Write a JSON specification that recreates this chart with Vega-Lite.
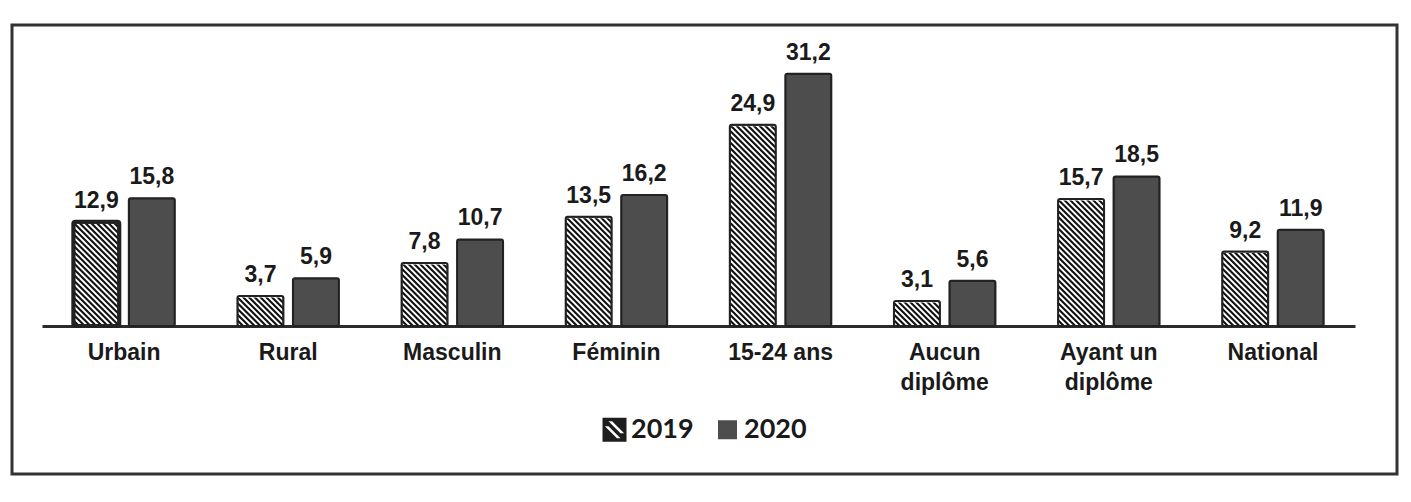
{
  "$schema": "https://vega.github.io/schema/vega-lite/v6.json",
  "autosize": {"type": "none"},
  "padding": {"left": 12, "top": 25, "right": 14, "bottom": 28},
  "width": 1385,
  "height": 449,
  "background": "white",
  "config": {
    "font": "Liberation Sans",
    "locale": {"number": {"decimal": ",", "thousands": "\u00a0", "grouping": [3], "currency": ["", " €"]}},
    "view": {"stroke": "#333333", "strokeWidth": 3}
  },
  "data": {
    "values": [
      {"cat": "Urbain", "year": "2019", "value": 12.9},
      {"cat": "Urbain", "year": "2020", "value": 15.8},
      {"cat": "Rural", "year": "2019", "value": 3.7},
      {"cat": "Rural", "year": "2020", "value": 5.9},
      {"cat": "Masculin", "year": "2019", "value": 7.8},
      {"cat": "Masculin", "year": "2020", "value": 10.7},
      {"cat": "Féminin", "year": "2019", "value": 13.5},
      {"cat": "Féminin", "year": "2020", "value": 16.2},
      {"cat": "15-24 ans", "year": "2019", "value": 24.9},
      {"cat": "15-24 ans", "year": "2020", "value": 31.2},
      {"cat": "Aucun diplôme", "year": "2019", "value": 3.1},
      {"cat": "Aucun diplôme", "year": "2020", "value": 5.6},
      {"cat": "Ayant un diplôme", "year": "2019", "value": 15.7},
      {"cat": "Ayant un diplôme", "year": "2020", "value": 18.5},
      {"cat": "National", "year": "2019", "value": 9.2},
      {"cat": "National", "year": "2020", "value": 11.9}
    ]
  },
  "encoding": {
    "x": {
      "field": "cat", "type": "nominal", "sort": null,
      "scale": {"range": [30, 1343], "paddingInner": 0, "paddingOuter": 0},
      "axis": {
        "title": null, "ticks": false, "grid": false, "labelAngle": 0,
        "offset": -148,
        "domainColor": "#2b2b2b", "domainWidth": 3,
        "labelFont": "Liberation Sans", "labelFontWeight": "bold", "labelFontSize": 23,
        "labelColor": "#1a1a1a", "labelPadding": 15, "labelBaseline": "top", "labelLineHeight": 30,
        "labelExpr": "indexof(datum.label, ' diplôme') > 0 ? [replace(datum.label, ' diplôme', ''), 'diplôme'] : datum.label"
      }
    },
    "xOffset": {
      "field": "year", "type": "nominal",
      "scale": {"domain": ["2019", "2020"], "paddingInner": 0.1712, "paddingOuter": 0.5642}
    }
  },
  "layer": [
    {
      "transform": [{"filter": "datum.year == '2019'"}],
      "mark": {
        "type": "point", "filled": false, "size": 2116, "opacity": 1,
        "stroke": "#111111", "strokeWidth": 2.1, "strokeCap": "butt",
        "shape": "M-1,-0.25l0.25,0.25M-1,-0.5l0.5,0.5M-1,-0.75l0.75,0.75M-1,-1l1,1M-1,-1.25l1.25,1.25M-1,-1.5l1.5,1.5M-1,-1.75l1.75,1.75M-1,-2l2,2M-1,-2.25l2,2M-1,-2.5l2,2M-1,-2.75l2,2M-1,-3l2,2M-1,-3.25l2,2M-1,-3.5l2,2M-1,-3.75l2,2M-1,-4l2,2M-1,-4.25l2,2M-1,-4.5l2,2M-1,-4.75l2,2M-1,-5l2,2M-1,-5.25l2,2M-1,-5.5l2,2M-1,-5.75l2,2M-1,-6l2,2M-1,-6.25l2,2M-1,-6.5l2,2M-1,-6.75l2,2M-1,-7l2,2M-1,-7.25l2,2M-1,-7.5l2,2M-1,-7.75l2,2M-1,-8l2,2M-1,-8.25l2,2M-1,-8.5l2,2M-1,-8.75l2,2M-1,-9l2,2M-1,-9.25l2,2M-1,-9.5l2,2M-1,-9.75l2,2M-1,-10l2,2M-1,-10.25l2,2M-1,-10.5l2,2M-1,-10.75l2,2M-1,-11l2,2"
      },
      "encoding": {
        "y": {"datum": 0, "type": "quantitative", "scale": {"domain": [0, 35], "range": [301, 18]}, "axis": null}
      }
    },
    {
      "transform": [{"filter": "datum.year == '2019'"}],
      "mark": {"type": "bar", "fill": "white", "stroke": "white", "strokeWidth": 3, "opacity": 1},
      "encoding": {
        "y": {"field": "value", "type": "quantitative", "scale": {"domain": [0, 35], "range": [301, 18]}, "axis": null},
        "y2": {"datum": 35}
      }
    },
    {
      "mark": {"type": "bar", "stroke": "#222222", "cornerRadius": 2, "opacity": 1},
      "encoding": {
        "y": {"field": "value", "type": "quantitative", "scale": {"domain": [0, 35], "range": [301, 18]}, "axis": null},
        "fill": {
          "field": "year", "type": "nominal",
          "scale": {"domain": ["2019", "2020"], "range": ["#1e1e1e", "#4d4d4d"]},
          "legend": {
            "title": null, "orient": "none", "direction": "horizontal",
            "legendX": 589, "legendY": 391, "padding": 0,
            "symbolSize": {"expr": "datum.value == '2019' ? 576 : 361"},
            "symbolType": {"expr": "datum.value == '2019' ? 'M-1,-1L1,-1L1,1L-1,1ZM-0.8,-0.3L0.2,0.7L0.5,0.7L-0.5,-0.3ZM-0.5,-0.7L0.5,0.3L0.8,0.3L-0.2,-0.7Z' : 'square'"},
            "symbolStrokeWidth": 0, "symbolOpacity": 1,
            "labelFont": "Lato", "labelFontWeight": "bold", "labelFontSize": 27, "labelColor": "#1a1a1a",
            "labelOffset": 3, "columnPadding": 20
          }
        },
        "fillOpacity": {
          "condition": {"test": "datum.year == '2019'", "value": 0},
          "value": 1
        },
        "strokeWidth": {
          "condition": {"test": "datum.cat == 'Urbain' && datum.year == '2019'", "value": 4},
          "value": 2
        }
      }
    },
    {
      "mark": {"type": "text", "font": "Liberation Sans", "fontWeight": "bold", "fontSize": 23, "color": "#1a1a1a", "baseline": "alphabetic", "dy": -14},
      "encoding": {
        "y": {"field": "value", "type": "quantitative", "scale": {"domain": [0, 35], "range": [301, 18]}, "axis": null},
        "text": {"field": "value", "type": "quantitative", "format": ".1f"}
      }
    }
  ]
}
